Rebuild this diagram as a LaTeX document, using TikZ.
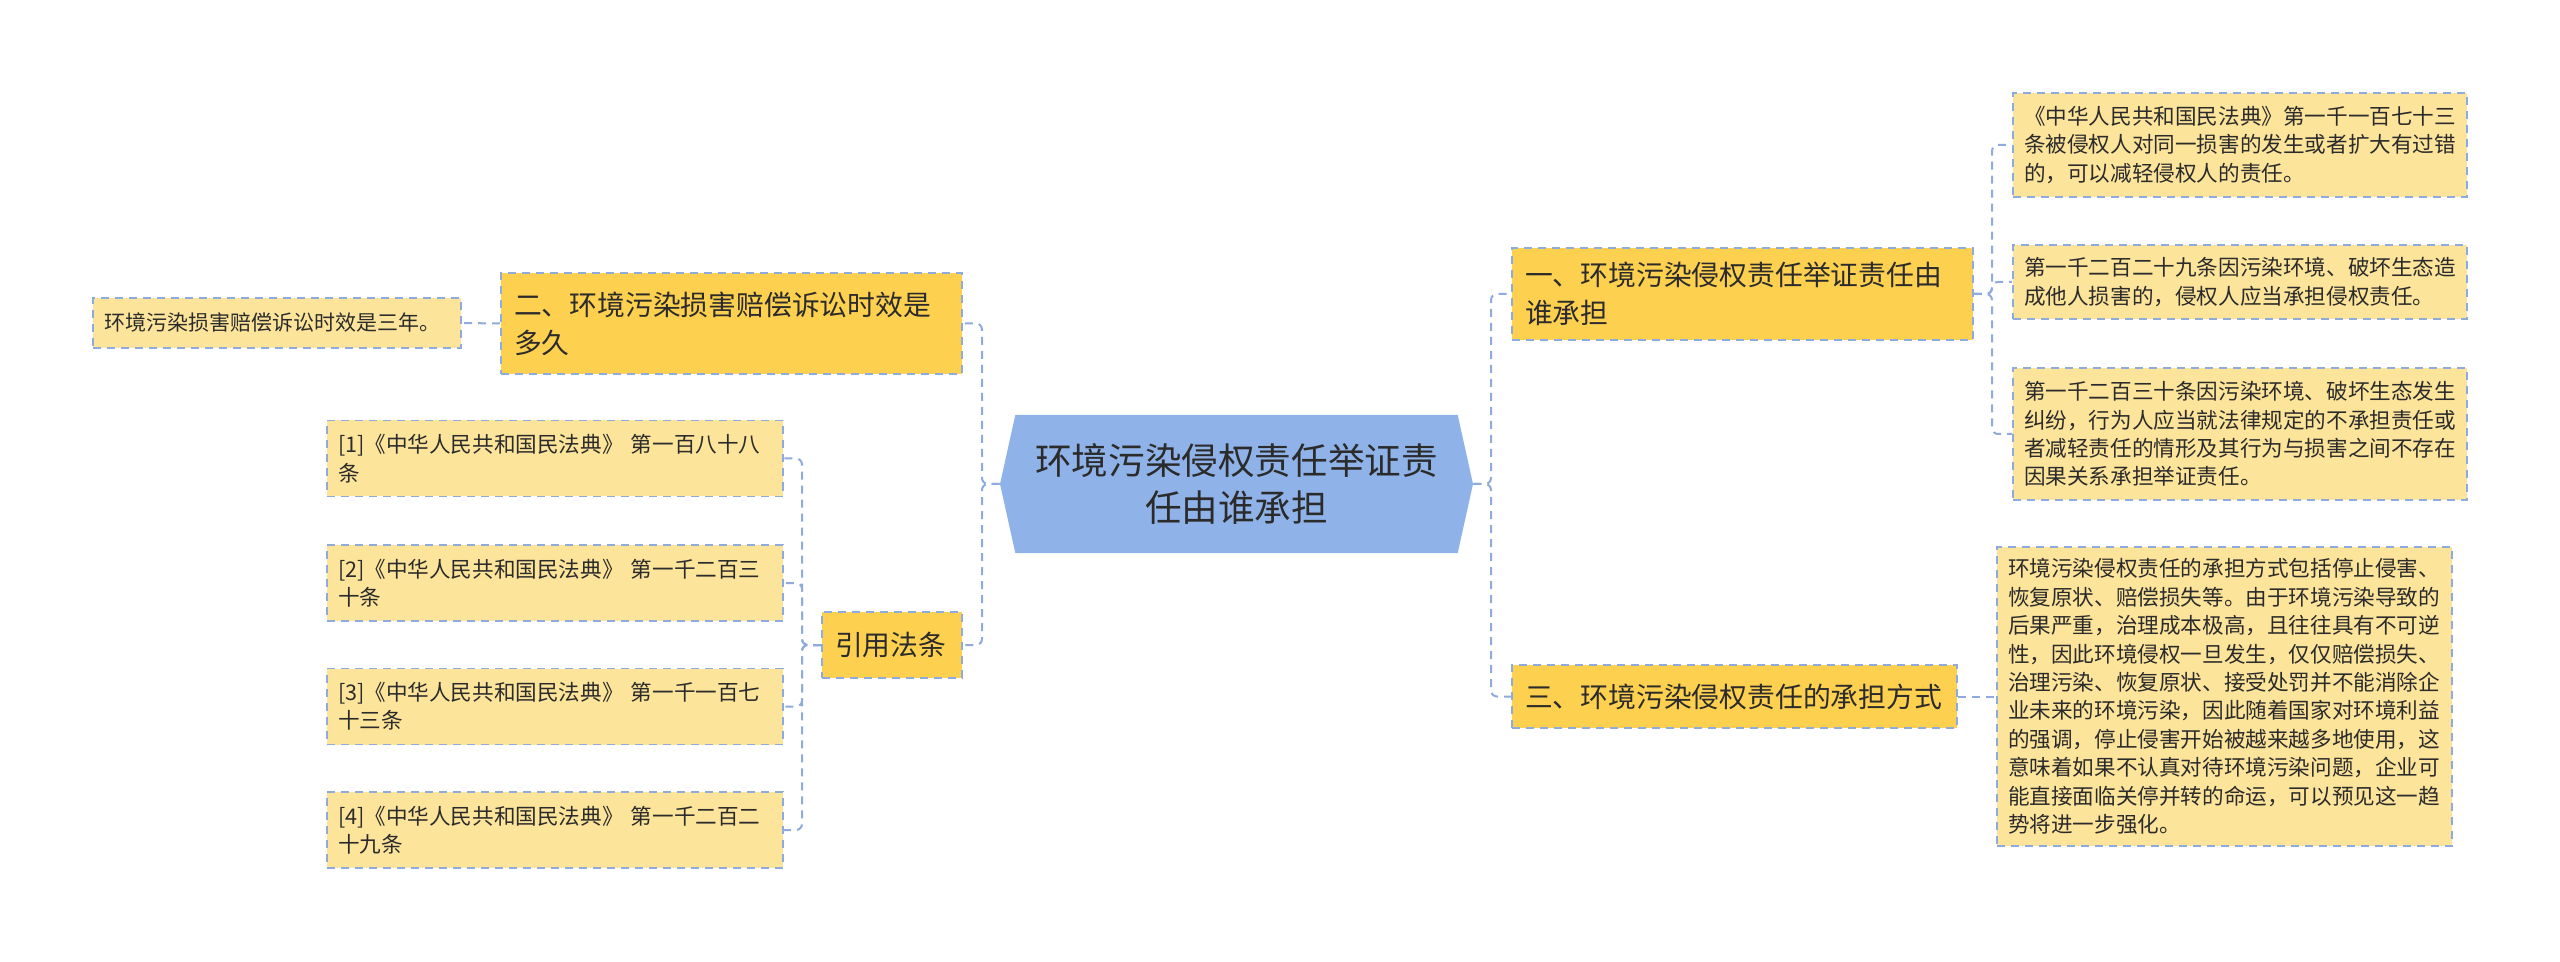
\documentclass[tikz,border=0pt]{standalone}
\usepackage{fontspec}
\setmainfont{Noto Sans CJK SC}
\usetikzlibrary{shapes.symbols}

\definecolor{rootblue}{HTML}{8FB3E8}
\definecolor{topicgold}{HTML}{FDD04F}
\definecolor{leafyellow}{HTML}{FDE49B}
\definecolor{linkblue}{HTML}{8FAADC}
\definecolor{textgray}{HTML}{2B2B2B}

\tikzset{
  link/.style={draw=linkblue, dash pattern=on 4pt off 3pt, line width=1pt, rounded corners=3pt},
  rootnode/.style={signal, signal to=west and east, signal pointer angle=155, fill=rootblue,
    text=textgray, font=\fontsize{18.3}{24}\selectfont, align=center,
    minimum width=236.5pt, minimum height=69pt, inner sep=0pt},
  topic/.style={draw=linkblue, dash pattern=on 4pt off 3pt, line width=0.8pt, fill=topicgold,
    text=textgray, font=\fontsize{13.9}{19}\selectfont, align=left, inner xsep=6.5pt, inner ysep=0pt},
  leaf/.style={topic, fill=leafyellow, font=\fontsize{10.8}{14.2}\selectfont, inner xsep=5.5pt}
}

\begin{document}
\begin{tikzpicture}[x=0.5pt,y=-0.5pt]
\useasboundingbox (0,0) rectangle (2560,962);

% Koordinaten der Verzweigungen
\coordinate (ltrunk) at (982,0);
\coordinate (rtrunk) at (1491,0);
\coordinate (atrunk) at (1992,0);
\coordinate (ctrunk) at (802,0);

% Wurzel
\node[rootnode] (root) at (1236.5,484) {环境污染侵权责任举证责\\任由谁承担};

% rechte Seite
\node[topic, text width=217.5pt, minimum height=46pt] (n1) at (1742.5,294) {一、环境污染侵权责任举证责任由\\谁承担};
\node[topic, text width=209.5pt, minimum height=31.5pt] (n3) at (1734.5,696.5) {三、环境污染侵权责任的承担方式};

\node[leaf, text width=216pt, minimum height=52pt] (a) at (2240,145) {《中华人民共和国民法典》第一千一百七十三\\条被侵权人对同一损害的发生或者扩大有过错\\的，可以减轻侵权人的责任。};
\node[leaf, text width=216pt, minimum height=37pt] (b) at (2240,282) {第一千二百二十九条因污染环境、破坏生态造\\成他人损害的，侵权人应当承担侵权责任。};
\node[leaf, text width=216pt, minimum height=66pt] (c) at (2240,434) {第一千二百三十条因污染环境、破坏生态发生\\纠纷，行为人应当就法律规定的不承担责任或\\者减轻责任的情形及其行为与损害之间不存在\\因果关系承担举证责任。};
\node[leaf, text width=216.5pt, minimum height=149.5pt] (d) at (2224.5,696.5) {环境污染侵权责任的承担方式包括停止侵害、\\恢复原状、赔偿损失等。由于环境污染导致的\\后果严重，治理成本极高，且往往具有不可逆\\性，因此环境侵权一旦发生，仅仅赔偿损失、\\治理污染、恢复原状、接受处罚并不能消除企\\业未来的环境污染，因此随着国家对环境利益\\的强调，停止侵害开始被越来越多地使用，这\\意味着如果不认真对待环境污染问题，企业可\\能直接面临关停并转的命运，可以预见这一趋\\势将进一步强化。};

% linke Seite
\node[topic, text width=217.5pt, minimum height=50.5pt] (n2) at (731.5,323.5) {二、环境污染损害赔偿诉讼时效是\\多久};
\node[topic, text width=57pt, minimum height=33pt] (cite) at (892,645) {引用法条};

\node[leaf, text width=173pt, minimum height=25pt, font=\fontsize{10.5}{14}\selectfont] (e) at (277,323) {环境污染损害赔偿诉讼时效是三年。};

\node[leaf, text width=217pt, minimum height=38pt] (r1) at (555,458.5) {[1]《中华人民共和国民法典》 第一百八十八\\条};
\node[leaf, text width=217pt, minimum height=38pt] (r2) at (555,583) {[2]《中华人民共和国民法典》 第一千二百三\\十条};
\node[leaf, text width=217pt, minimum height=38pt] (r3) at (555,706.5) {[3]《中华人民共和国民法典》 第一千一百七\\十三条};
\node[leaf, text width=217pt, minimum height=38pt] (r4) at (555,830) {[4]《中华人民共和国民法典》 第一千二百二\\十九条};

% Verbindungen
\draw[link] (root.east) -- (rtrunk |- root.east) |- (n1.west);
\draw[link] (root.east) -- (rtrunk |- root.east) |- (n3.west);
\draw[link] (root.west) -- (ltrunk |- root.west) |- (n2.east);
\draw[link] (root.west) -- (ltrunk |- root.west) |- (cite.east);

\foreach \k in {a,b,c}
  \draw[link] (n1.east) -- (atrunk |- n1.east) |- (\k.west);
\draw[link] (n3.east) -- (d.west);
\draw[link] (n2.west) -- (e.east);
\foreach \k in {r1,r2,r3,r4}
  \draw[link] (cite.west) -- (ctrunk |- cite.west) |- (\k.east);
\end{tikzpicture}
\end{document}
